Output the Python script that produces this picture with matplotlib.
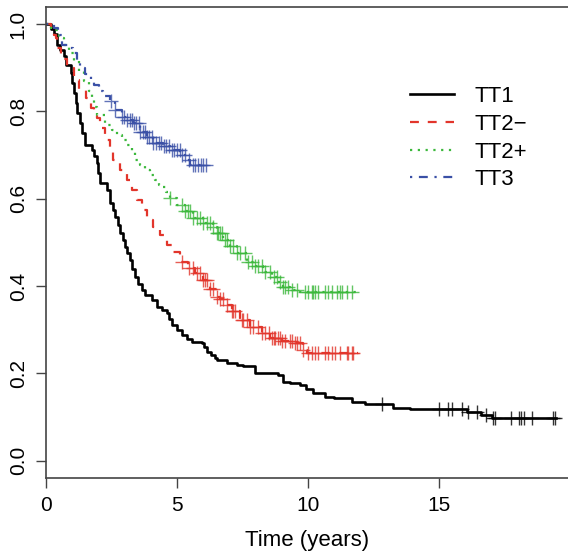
import numpy as np
import matplotlib.pyplot as plt

plt.rcParams['font.family'] = ['Liberation Sans', 'DejaVu Sans']

# Kaplan-Meier curves: event times (years) and survival
tt1_t = [0, 0.2, 0.32, 0.44, 0.55, 0.70, 0.76, 0.95, 1.02, 1.08, 1.15, 1.2, 1.31, 1.40, 1.50,
         1.75, 1.85, 1.94, 2.0, 2.07, 2.32, 2.45, 2.55, 2.64, 2.75, 2.83, 2.96, 3.02, 3.1,
         3.21, 3.3, 3.40, 3.5, 3.66, 3.8, 4.04, 4.23, 4.45, 4.61, 4.70, 4.80, 5.0, 5.18,
         5.4, 5.56, 5.95, 6.05, 6.14, 6.3, 6.45, 6.52, 6.90, 7.28, 7.5, 7.98, 8.86, 9.05,
         9.3, 9.69, 9.9, 10.2, 10.64, 11.0, 11.66, 12.17, 13.25, 13.88, 16.04, 16.6, 17.0, 19.45]
tt1_s = [1.0, 0.99, 0.977, 0.953, 0.94, 0.926, 0.907, 0.888, 0.865, 0.843, 0.82, 0.797, 0.774,
         0.75, 0.724, 0.712, 0.697, 0.682, 0.66, 0.636, 0.620, 0.590, 0.575, 0.559, 0.54,
         0.522, 0.505, 0.490, 0.475, 0.46, 0.44, 0.422, 0.405, 0.391, 0.38, 0.368, 0.353,
         0.345, 0.338, 0.325, 0.311, 0.30, 0.288, 0.28, 0.273, 0.269, 0.26, 0.250, 0.243,
         0.236, 0.231, 0.223, 0.219, 0.216, 0.200, 0.197, 0.181, 0.178, 0.174, 0.165, 0.155,
         0.147, 0.143, 0.135, 0.130, 0.122, 0.118, 0.1125, 0.105, 0.097, 0.097]
tt1_cens = [12.8, 15.0, 15.34, 15.47, 15.85, 16.1, 16.42, 16.78, 17.06, 17.12, 17.72, 18.04,
            18.1, 18.23, 18.52, 19.32, 19.4]

tt2m_t = [0, 0.19, 0.3, 0.38, 0.44, 0.6, 0.82, 1.08, 1.27, 1.52, 1.71, 1.85, 1.97, 2.07, 2.26,
          2.45, 2.58, 2.83, 3.09, 3.28, 3.47, 3.66, 3.85, 4.10, 4.36, 4.61, 4.86, 5.12, 5.43,
          5.69, 6.01, 6.26, 6.52, 6.64, 6.83, 7.09, 7.40, 7.79, 8.23, 8.55, 9.0, 9.44, 9.82,
          9.95, 11.9]
tt2m_s = [1.0, 0.987, 0.975, 0.968, 0.946, 0.92, 0.899, 0.872, 0.849, 0.830, 0.808, 0.795,
          0.785, 0.762, 0.735, 0.712, 0.689, 0.666, 0.643, 0.620, 0.597, 0.575, 0.552, 0.535,
          0.517, 0.494, 0.479, 0.456, 0.441, 0.430, 0.414, 0.393, 0.376, 0.370, 0.357, 0.342,
          0.323, 0.307, 0.292, 0.281, 0.275, 0.269, 0.254, 0.248, 0.248]
tt2m_cens = [5.18, 5.45, 5.63, 5.75, 5.88, 6.01, 6.07, 6.14, 6.26, 6.39, 6.52, 6.64, 6.77, 6.9,
             7.09, 7.15, 7.21, 7.47, 7.53, 7.66, 7.79, 7.91, 8.1, 8.23, 8.36, 8.49, 8.61, 8.68,
             8.74, 8.86, 8.93, 9.0, 9.12, 9.31, 9.38, 9.5, 9.57, 9.69, 9.82, 10.0, 10.14, 10.26,
             10.39, 10.64, 10.77, 10.9, 11.02, 11.21, 11.47, 11.53, 11.66, 11.72]

tt2p_t = [0, 0.2, 0.51, 0.70, 0.89, 1.08, 1.27, 1.46, 1.65, 1.75, 1.84, 1.97, 2.26, 2.51, 2.70,
          2.90, 3.09, 3.28, 3.40, 3.59, 3.78, 3.97, 4.17, 4.3, 4.42, 4.6, 4.74, 4.99, 5.31,
          5.63, 6.01, 6.39, 6.52, 6.77, 7.02, 7.28, 7.66, 7.98, 8.29, 8.61, 8.86, 9.05, 9.3,
          9.69, 11.95]
tt2p_s = [1.0, 0.987, 0.968, 0.953, 0.934, 0.915, 0.892, 0.869, 0.846, 0.83, 0.811, 0.792,
          0.769, 0.758, 0.746, 0.735, 0.723, 0.708, 0.689, 0.678, 0.666, 0.655, 0.643, 0.632,
          0.628, 0.615, 0.601, 0.586, 0.571, 0.556, 0.544, 0.536, 0.521, 0.506, 0.491, 0.475,
          0.456, 0.445, 0.433, 0.422, 0.410, 0.399, 0.392, 0.387, 0.387]
tt2p_cens = [4.74, 5.2, 5.31, 5.43, 5.5, 5.63, 5.75, 5.88, 6.01, 6.14, 6.26, 6.39, 6.52, 6.58,
             6.64, 6.71, 6.83, 6.9, 7.02, 7.15, 7.28, 7.40, 7.59, 7.72, 7.85, 7.98, 8.1, 8.23,
             8.36, 8.55, 8.68, 8.8, 8.93, 9.05, 9.12, 9.25, 9.38, 9.57, 9.88, 10.0, 10.14, 10.2,
             10.26, 10.39, 10.64, 10.77, 10.9, 11.09, 11.21, 11.28, 11.47, 11.66]

tt3_t = [0, 0.32, 0.45, 0.55, 0.63, 0.85, 1.05, 1.2, 1.31, 1.5, 1.71, 1.85, 2.03, 2.2, 2.45,
         2.64, 2.90, 3.1, 3.34, 3.59, 3.85, 4.10, 4.48, 4.74, 5.12, 5.37, 5.5, 6.1]
tt3_s = [1.0, 0.991, 0.985, 0.976, 0.953, 0.945, 0.934, 0.915, 0.899, 0.885, 0.872, 0.86,
         0.846, 0.835, 0.823, 0.804, 0.788, 0.78, 0.773, 0.754, 0.742, 0.727, 0.720, 0.712,
         0.700, 0.689, 0.678, 0.678]
tt3_cens = [2.48, 2.64, 2.9, 3.0, 3.1, 3.2, 3.3, 3.35, 3.45, 3.55, 3.6, 3.7, 3.8, 3.85, 3.95,
            4.05, 4.1, 4.2, 4.3, 4.4, 4.5, 4.6, 4.7, 4.8, 4.9, 5.0, 5.1, 5.2, 5.3, 5.45, 5.6,
            5.7, 5.8, 5.9, 6.0, 6.1]

groups = ['TT1', 'TT2\u2212', 'TT2+', 'TT3']
colors = ['black', '#e2352b', '#3cb83c', '#3a50a6']
styles = ['-', (0, (4, 4)), (0, (1, 2.5)), (0, (1, 3, 4, 3))]
widths = [1.9, 1.6, 1.6, 1.6]
curves = [(tt1_t, tt1_s, tt1_cens), (tt2m_t, tt2m_s, tt2m_cens),
          (tt2p_t, tt2p_s, tt2p_cens), (tt3_t, tt3_s, tt3_cens)]

fig = plt.figure(figsize=(5.68, 5.57), dpi=100)
ax = fig.add_axes([45.7 / 568, 1 - 477.7 / 557, 1 - 45.7 / 568, (477.7 - 6.7) / 557])

for (t, s, cens), name, c, ls, lw in zip(curves, groups, colors, styles, widths):
    ax.step(t, s, where='post', color=c, linestyle=ls, linewidth=lw, label=name)
    t_arr = np.array(t)
    idx = np.searchsorted(t_arr, cens, side='right') - 1
    cy = np.array(s)[idx]
    ax.plot(cens, cy, linestyle='none', marker='+', markersize=10, markeredgewidth=1.0,
            color=c, alpha=0.8)

ax.set_xlim(0, 19.9)
ax.set_ylim(-0.0387, 1.04)
ax.set_xticks([0, 5, 10, 15])
ax.set_yticks([0.0, 0.2, 0.4, 0.6, 0.8, 1.0])
ax.set_yticklabels(['0.0', '0.2', '0.4', '0.6', '0.8', '1.0'], rotation=90, va='center')
ax.tick_params(labelsize=15, length=7, width=1, color='#444444', direction='out', pad=6)
ax.spines['right'].set_visible(False)
for sp in ['left', 'bottom', 'top']:
    ax.spines[sp].set_color('#444444')
    ax.spines[sp].set_linewidth(1.2)

ax.set_xlabel('Time (years)', fontsize=16, labelpad=11)

ax.legend(loc='upper left', bbox_to_anchor=(0.68, 0.85), frameon=False, fontsize=16,
          handlelength=2.0, handletextpad=0.9, labelspacing=0.3, borderaxespad=0)

fig.savefig('out.png', dpi=100)
